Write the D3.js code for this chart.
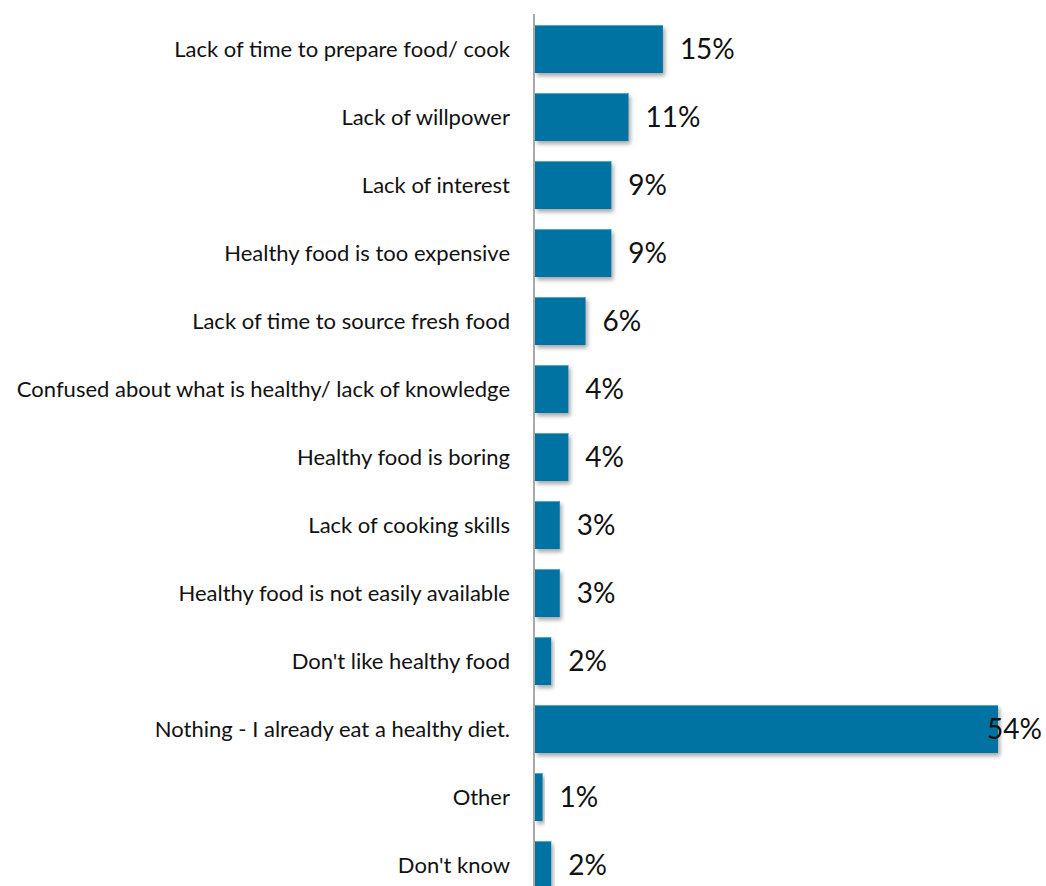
<!DOCTYPE html>
<html>
<head>
<meta charset="utf-8">
<script src="https://cdn.jsdelivr.net/npm/d3@7/dist/d3.min.js"></script>
<style>
  html, body { margin: 0; padding: 0; background: #fff; }
  svg { display: block; }
</style>
</head>
<body>
<svg id="chart" width="1046" height="886"></svg>
<script>
// Reasons for not eating a healthier diet (% of respondents)
const categories = [
  "Lack of time to prepare food/ cook",
  "Lack of willpower",
  "Lack of interest",
  "Healthy food is too expensive",
  "Lack of time to source fresh food",
  "Confused about what is healthy/ lack of knowledge",
  "Healthy food is boring",
  "Lack of cooking skills",
  "Healthy food is not easily available",
  "Don't like healthy food",
  "Nothing - I already eat a healthy diet.",
  "Other",
  "Don't know"
];
const values = [15, 11, 9, 9, 6, 4, 4, 3, 3, 2, 54, 1, 2];
const valueLabels = ["15%", "11%", "9%", "9%", "6%", "4%", "4%", "3%", "3%", "2%", "54%", "1%", "2%"];

const W = 1046, H = 886;
const axisX = 534;
const svg = d3.select("#chart");

const x = d3.scaleLinear().domain([0, 54]).range([axisX, 998]);
const y = d3.scaleBand().domain(categories)
  .range([15, 15 + 68 * categories.length])
  .paddingInner(20 / 68)
  .paddingOuter(10 / 68);

const defs = svg.append("defs");
const f = defs.append("filter").attr("id", "shadow")
  .attr("x", "-10%").attr("y", "-20%").attr("width", "130%").attr("height", "160%");
f.append("feGaussianBlur").attr("in", "SourceAlpha").attr("stdDeviation", 2).attr("result", "b");
f.append("feOffset").attr("in", "b").attr("dx", 2).attr("dy", 3).attr("result", "o");
f.append("feComponentTransfer").attr("in", "o").attr("result", "s")
  .append("feFuncA").attr("type", "linear").attr("slope", 0.35);
const m = f.append("feMerge");
m.append("feMergeNode").attr("in", "s");
m.append("feMergeNode").attr("in", "SourceGraphic");

const bars = svg.append("g");
bars.selectAll("rect.bar")
  .data(categories)
  .join("rect")
  .attr("class", "bar")
  .attr("x", x(0) + 1)
  .attr("y", d => y(d))
  .attr("width", (d, i) => x(values[i]) - x(0) - 1)
  .attr("height", y.bandwidth())
  .attr("fill", "#0073a3")
  .attr("filter", "url(#shadow)");

// light top edge on each bar
bars.selectAll("line.edge")
  .data(categories)
  .join("line")
  .attr("class", "edge")
  .attr("x1", x(0) + 1)
  .attr("x2", (d, i) => x(values[i]))
  .attr("y1", d => y(d) + 0.5)
  .attr("y2", d => y(d) + 0.5)
  .attr("stroke", "#4fa6cc")
  .attr("stroke-width", 1);

// category axis
const yAxis = d3.axisLeft(y).tickSize(0).tickPadding(24);
const ag = svg.append("g").attr("transform", `translate(${axisX},0)`).call(yAxis);
ag.select(".domain").remove();
ag.append("line").attr("x1", 0).attr("x2", 0).attr("y1", 14).attr("y2", H)
  .attr("stroke", "#8c8c8c").attr("stroke-width", 1.5);
ag.selectAll(".tick text")
  .attr("font-family", "Lato, 'Open Sans', sans-serif")
  .attr("font-size", 22)
  .attr("fill", "#111")
  .attr("dy", "0.35em");

// value labels
const labels = svg.append("g").selectAll("text.val")
  .data(categories)
  .join("text")
  .attr("class", "val")
  .attr("y", d => y(d) + y.bandwidth() / 2)
  .attr("dy", "0.36em")
  .attr("font-family", "Lato, 'Open Sans', sans-serif")
  .attr("font-size", 28)
  .attr("fill", "#111")
  .text((d, i) => valueLabels[i]);
labels.each(function (d, i) {
  const t = d3.select(this);
  const w = this.getComputedTextLength();
  const px = Math.min(x(values[i]) + 17, W - 4 - w);
  t.attr("x", px);
});
</script>
</body>
</html>
